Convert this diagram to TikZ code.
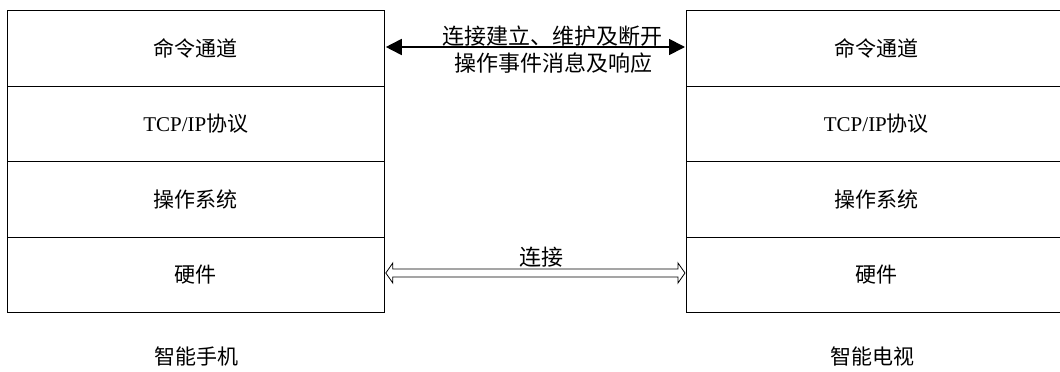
\documentclass[tikz,border=0pt]{standalone}
\usepackage{fontspec}
\setmainfont{Liberation Serif}
\newfontfamily\cjk{Noto Sans CJK SC}
\usetikzlibrary{arrows.meta,calc}
\begin{document}
\begin{tikzpicture}[x=1pt,y=-1pt,
  cell/.style={draw=black,line width=0.8pt,minimum width=377pt,minimum height=75.5pt,inner sep=0pt,anchor=north west,font=\fontsize{21}{24}\selectfont\cjk},
  cellR/.style={cell,minimum width=380pt},
  lbl/.style={font=\fontsize{21}{24}\selectfont\cjk,inner sep=0pt},
  albl/.style={font=\fontsize{22}{25}\selectfont\cjk,inner sep=0pt}]
\useasboundingbox (0,0) rectangle (1060,372);
% left stack
\node[cell] (cmdL) at (7,10) {命令通道};
\node[cell] (tcpL) at (7,85.5) {{\rmfamily TCP/IP}协议};
\node[cell] (osL) at (7,161) {操作系统};
\node[cell] (hwL) at (7,236.5) {硬件};
% right stack
\node[cellR] (cmdR) at (686,10) {命令通道};
\node[cellR] (tcpR) at (686,85.5) {{\rmfamily TCP/IP}协议};
\node[cellR] (osR) at (686,161) {操作系统};
\node[cellR] (hwR) at (686,236.5) {硬件};
% captions
\node[lbl] (capL) at (196,356) {智能手机};
\node[lbl] (capR) at (872,356) {智能电视};
% top arrow
\coordinate (tA) at ($(cmdL.north east)+(1,37)$);
\coordinate (tB) at ($(cmdR.north west)+(-1,37)$);
\draw[line width=1.8pt,{Triangle[length=16pt,width=16pt]}-{Triangle[length=16pt,width=16pt]}] (tA) -- (tB);
\node[albl] (t1) at (552,36) {连接建立、维护及断开};
\node[albl] (t2) at (553,63) {操作事件消息及响应};
% bottom hollow double arrow
\coordinate (bA) at ($(hwL.north east)+(1,36.5)$);
\coordinate (bB) at ($(hwR.north west)+(-1,36.5)$);
\draw[line width=0.8pt,fill=white] (bA) -- ++(7,-10) -- ++(0,6) -- ($(bB)+(-7,-4)$) -- ++(0,-6) -- (bB) -- ++(-7,10) -- ++(0,-6) -- ($(bA)+(7,4)$) -- ++(0,6) -- cycle;
\node[albl] (b1) at (541,257) {连接};
\end{tikzpicture}
\end{document}
